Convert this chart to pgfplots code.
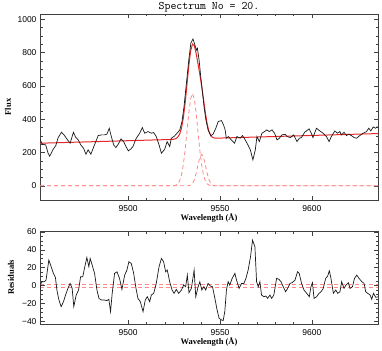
\documentclass[border=0pt]{standalone}
\usepackage{fontspec}
\setmainfont{Liberation Serif}
\setsansfont{Liberation Sans}
\usepackage{pgfplots}
\pgfplotsset{compat=1.18}

\definecolor{fitred}{RGB}{232,40,40}
\definecolor{comppink}{RGB}{255,135,135}

\pgfplotsset{
  spec/.style={
    scale only axis, width=338pt,
    xmin=9452, xmax=9636,
    xtick={9500,9550,9600}, minor x tick num=4,
    tick align=inside, tick pos=both,
    major tick length=4.5pt, minor tick length=2.5pt,
    every tick/.style={black!75, line width=0.5pt},
    axis line style={black!75, line width=0.6pt},
    /pgf/number format/assume math mode=true,
    /pgf/number format/set thousands separator={},
    ticklabel style={font=\sffamily\fontsize{8.5}{10}\selectfont},
    xticklabel style={yshift=-2pt},
    xlabel={Wavelength (Å)},
    label style={font=\bfseries\fontsize{8.5}{10}\selectfont},
    xlabel style={at={(0.5,0)}, anchor=center, yshift=-18pt},
    clip=true,
  },
}

\begin{document}
\begin{tikzpicture}
\useasboundingbox (0pt,0pt) rectangle (382pt,-350pt);

% upper panel: spectrum and fit
\begin{axis}[spec, height=186pt,
  at={(40pt,-14pt)}, anchor=north west,
  ymin=-85, ymax=1032,
  ytick={0,200,400,600,800,1000}, minor y tick num=3,
  ylabel={Flux},
  ylabel style={at={(axis description cs:-0.0947,0.5)}, anchor=center},
  title={Spectrum No = 20.},
  title style={font=\ttfamily\fontsize{11.5}{12}\selectfont, at={(0.5,1)}, anchor=base, yshift=-2pt},
]
% gaussian components
\addplot[comppink, dashed, dash pattern=on 4pt off 3pt, line width=0.8pt] coordinates {
 (9452,0) (9522,0) (9523,0.1) (9524,0.4) (9525,1.5) (9526,4.5) (9527,12.4) (9528,30.1)
 (9529,65.3) (9530,125.6) (9531,214.4) (9532,325.0) (9533,437.6) (9534,523.0) (9535,555)
 (9536,523.0) (9537,437.6) (9538,325.0) (9539,214.4) (9540,125.6) (9541,65.3) (9542,30.1)
 (9543,12.4) (9544,4.5) (9545,1.5) (9546,0.4) (9547,0.1) (9548,0) (9636,0)
};
\addplot[comppink, dashed, dash pattern=on 4pt off 3pt, line width=0.8pt] coordinates {
 (9452,0) (9531,0) (9532,0.3) (9533,1.2) (9534,4.6) (9535,14.4) (9536,36.4) (9537,75.0)
 (9538,125.7) (9539,171.3) (9540,190) (9541,171.3) (9542,125.7) (9543,75.0) (9544,36.4)
 (9545,14.4) (9546,4.6) (9547,1.2) (9548,0.3) (9549,0) (9636,0)
};
% total model
\addplot[fitred, line width=1pt] coordinates {
 (9452,256) (9523,278.4) (9524,279.1) (9525,280.5) (9526,283.8) (9527,292.0) (9528,310.0)
 (9529,345.6) (9530,406.2) (9531,495.3) (9532,606.5) (9533,720.3) (9534,809.5) (9535,851.5)
 (9536,841.9) (9537,795.4) (9538,733.8) (9539,669.1) (9540,599.3) (9541,520.6) (9542,440.2)
 (9543,372.1) (9544,325.9) (9545,301.2) (9546,290.6) (9547,287.2) (9548,286.5) (9549,286.6)
 (9636,314)
};
% observed spectrum
\addplot[black!90, line width=0.7pt] coordinates {
 (9451.8,284) (9453.3,250) (9455.1,246) (9456.4,196) (9457.3,178) (9459.3,222) (9460.6,242)
 (9461.9,290) (9463.7,322) (9465.1,306) (9466.6,282) (9468.4,256) (9470.2,322) (9471.5,290)
 (9472.8,276) (9474.2,246) (9475.7,226) (9477.0,190) (9478.2,216) (9479.7,190) (9481.1,230)
 (9482.4,266) (9483.7,302) (9485.5,306) (9487.0,306) (9488.4,310) (9489.7,346) (9490.6,306)
 (9492.1,246) (9493.3,230) (9494.6,250) (9496.1,282) (9497.5,266) (9498.8,236) (9500.1,210)
 (9501.5,222) (9502.6,236) (9504.4,286) (9506.3,316) (9507.7,350) (9509.0,316) (9510.8,326)
 (9512.6,316) (9513.9,320) (9515.3,296) (9516.8,246) (9518.1,196) (9519.9,220) (9521.2,266)
 (9522.6,236) (9523.5,286) (9525.3,300) (9526.6,316) (9528.1,336) (9529.3,386) (9530.4,476)
 (9531.7,616) (9533.0,756) (9534.1,856) (9534.8,872) (9535.3,882) (9536.3,846) (9537.2,816)
 (9537.7,826) (9538.6,756) (9539.5,656) (9540.4,566) (9541.3,476) (9542.3,396) (9543.5,336)
 (9545.0,300) (9546.3,312) (9547.7,346) (9549.0,386) (9550.8,392) (9551.9,366) (9552.8,336)
 (9553.4,286) (9554.6,296) (9556.1,276) (9557.9,256) (9559.2,296) (9561.0,286) (9562.3,302)
 (9563.7,276) (9565.2,246) (9566.5,216) (9567.9,156) (9569.2,216) (9570.1,296) (9571.4,266)
 (9572.8,316) (9574.3,326) (9575.5,336) (9576.8,326) (9578.3,336) (9579.7,316) (9581.0,276)
 (9582.3,286) (9583.7,306) (9585.5,310) (9586.5,296) (9588.3,290) (9590.1,306) (9591.9,266)
 (9593.2,286) (9594.3,290) (9596.1,322) (9598.5,342) (9599.7,316) (9600.6,290) (9602.5,346)
 (9604.3,330) (9606.1,316) (9607.9,296) (9609.4,266) (9610.6,296) (9612.5,330) (9613.9,316)
 (9615.2,326) (9616.1,306) (9617.5,322) (9618.8,302) (9620.1,310) (9621.5,302) (9623.0,290)
 (9624.3,286) (9626.1,302) (9627.9,316) (9629.7,326) (9631.0,346) (9632.1,330) (9633.4,354)
 (9634.6,346) (9635.7,356)
};
\end{axis}

% lower panel: residuals
\begin{axis}[spec, height=93pt,
  at={(40pt,-231pt)}, anchor=north west,
  ymin=-43, ymax=61,
  ytick={-40,-20,0,20,40,60},
  yticklabels={−40,−20,0,20,40,60},
  minor y tick num=3,
  ylabel={Residuals},
  ylabel style={at={(axis description cs:-0.0858,0.5)}, anchor=center},
]
\addplot[comppink, dashed, dash pattern=on 4pt off 3pt, line width=0.8pt] coordinates {(9452,1.3) (9636,1.3)};
\addplot[comppink, dashed, dash pattern=on 4pt off 3pt, line width=0.8pt] coordinates {(9452,-2.0) (9636,-2.0)};
\addplot[black!90, line width=0.7pt] coordinates {
 (9451.8,-8.7) (9452.5,2.4) (9453.2,4.3) (9454.4,4.3) (9455.3,6.1) (9456.8,28.5) (9458.1,21.0)
 (9459.3,13.6) (9460.4,9.1) (9461.2,-5.0) (9462.2,-15.4) (9463.5,-23.6) (9464.8,-18.0)
 (9465.9,-10.6) (9467.2,-3.2) (9468.4,2.4) (9469.5,-3.2) (9470.4,-23.6) (9471.7,-10.6)
 (9473.0,-5.0) (9474.1,9.9) (9475.3,9.9) (9476.2,19.2) (9477.5,31.4) (9478.6,21.0)
 (9479.3,30.3) (9480.4,22.9) (9481.7,13.6) (9483.0,-5.0) (9484.1,-14.3) (9485.3,-16.2)
 (9487.1,-16.2) (9488.4,-16.9) (9489.5,-15.4) (9490.4,-29.2) (9491.3,-8.7) (9492.6,13.6)
 (9493.9,15.4) (9495.3,8.0) (9496.6,-4.3) (9498.1,11.7) (9499.3,17.3) (9500.4,26.6)
 (9501.7,24.7) (9503.0,13.6) (9504.1,-1.3) (9505.3,-14.3) (9506.6,-18.0) (9508.1,-29.2)
 (9509.3,-16.2) (9510.4,-12.5) (9511.7,-18.0) (9512.6,-10.6) (9513.9,-8.7) (9515.3,2.4)
 (9516.8,21.0) (9518.1,30.3) (9519.3,26.6) (9520.4,15.4) (9521.3,17.3) (9522.6,4.3)
 (9523.9,-5.0) (9525.0,-8.7) (9526.2,-4.3) (9527.5,-8.7) (9529.0,-5.0) (9530.2,0.6)
 (9531.3,-1.3) (9532.2,11.7) (9533.1,-8.0) (9534.4,-3.2) (9535.9,17.3) (9536.8,-12.5)
 (9538.1,-1.3) (9539.0,4.3) (9540.1,-5.0) (9541.2,-1.3) (9542.2,-5.0) (9543.5,2.4)
 (9544.8,-0.6) (9545.9,-1.3) (9547.2,-14.3) (9548.4,-27.3) (9549.5,-36.6) (9550.8,-38.5)
 (9551.7,-39.2) (9552.6,-29.2) (9553.5,-5.0) (9554.4,4.3) (9555.3,0.6) (9556.6,8.0)
 (9558.1,13.6) (9559.0,6.1) (9560.4,-3.2) (9561.7,2.4) (9563.0,2.4) (9564.1,8.0)
 (9565.3,17.3) (9566.6,32.2) (9567.7,50.8) (9569.0,43.3) (9569.9,4.3) (9570.8,-1.3)
 (9571.7,4.3) (9572.6,-10.6) (9573.9,-12.5) (9575.0,-11.7) (9575.9,-14.3) (9577.2,-10.6)
 (9578.1,-14.3) (9579.3,-10.6) (9580.8,8.0) (9582.1,6.9) (9583.2,4.3) (9584.4,-1.3)
 (9585.7,-6.9) (9586.8,-3.2) (9588.1,2.4) (9589.3,3.2) (9590.8,6.1) (9592.2,15.4)
 (9593.1,13.6) (9594.4,2.4) (9595.7,-5.0) (9597.2,-8.7) (9598.6,-12.5) (9599.5,-1.3)
 (9600.3,3.2) (9601.2,-14.3) (9602.6,-12.5) (9603.9,-8.7) (9605.0,-6.9) (9606.2,-3.2)
 (9607.5,8.0) (9608.6,10.6) (9609.5,16.6) (9610.4,8.0) (9611.7,-8.7) (9613.0,-5.0)
 (9614.1,-8.7) (9615.3,-6.9) (9616.2,4.3) (9617.5,-3.2) (9618.6,0.6) (9619.9,3.2)
 (9620.8,-3.2) (9622.1,-1.3) (9623.2,8.0) (9624.4,11.7) (9625.7,8.0) (9627.2,4.3)
 (9628.4,2.4) (9629.3,-6.9) (9630.4,-8.7) (9631.7,-10.6) (9632.6,-15.4) (9633.5,-8.7)
 (9634.8,-13.2) (9636.2,-12.5)
};
\end{axis}
\end{tikzpicture}
\end{document}
